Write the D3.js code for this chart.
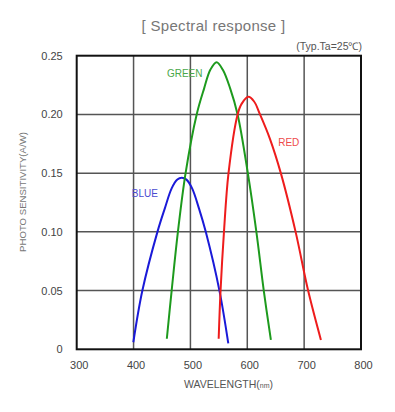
<!DOCTYPE html>
<html>
<head>
<meta charset="utf-8">
<script src="https://cdn.jsdelivr.net/npm/d3@7"></script>
<style>
  html, body { margin: 0; padding: 0; background: #fff; }
  svg { display: block; font-family: "Liberation Sans", Arial, sans-serif; }
</style>
</head>
<body>
<svg id="chart" width="395" height="412"></svg>
<script>
// ---- data ----
const xTicks = [300, 400, 500, 600, 700, 800];
const yTicks = [0, 0.05, 0.10, 0.15, 0.20, 0.25];

const blueWl  = [399.6, 415.5, 442, 455, 467, 477, 484.7, 493, 503, 515, 527, 551, 566.6];
const blueVal = [0.006, 0.05, 0.10, 0.12, 0.137, 0.1445, 0.146, 0.1445, 0.137, 0.12, 0.10, 0.05, 0.005];

const greenWl  = [458.5, 467, 478, 491.5, 511, 524, 535, 546, 557, 570, 583, 601, 616, 629, 641.5];
const greenVal = [0.009, 0.05, 0.10, 0.15, 0.20, 0.222, 0.238, 0.2445, 0.238, 0.222, 0.20, 0.15, 0.10, 0.05, 0.008];

const redWl  = [549.7, 553, 559, 567, 583, 590, 602, 612, 622.4, 640, 659, 685, 707, 729.5];
const redVal = [0.009, 0.05, 0.10, 0.15, 0.20, 0.209, 0.215, 0.211, 0.20, 0.179, 0.15, 0.10, 0.05, 0.008];

const seriesNames = ["BLUE", "GREEN", "RED"];
const seriesWl = [blueWl, greenWl, redWl];
const seriesVal = [blueVal, greenVal, redVal];
const lineColors = ["#1a1ad8", "#1d9a1d", "#ee1c1c"];
const labelColors = ["#4a4ad0", "#4aa84a", "#ee4a4a"];
const labelWl = [420, 490, 673];
const labelVal = [0.133, 0.2348, 0.1765];

const titleText = "[ Spectral response ]";
const noteText = "(Typ.Ta=25\u2103)";
const yTitle = "PHOTO SENSITIVITY(A/W)";

// ---- chart ----
const svg = d3.select("#chart");
const L = 76.7, R = 361, T = 55.7, B = 349.3;
const x = d3.scaleLinear().domain([300, 800]).range([L, R]);
const y = d3.scaleLinear().domain([0, 0.25]).range([B, T]);

// grid
svg.append("g").selectAll("line").data(xTicks.slice(1, -1)).join("line")
  .attr("x1", d => x(d)).attr("x2", d => x(d)).attr("y1", T).attr("y2", B)
  .attr("stroke", "#555").attr("stroke-width", 1.5);
svg.append("g").selectAll("line").data(yTicks.slice(1, -1)).join("line")
  .attr("y1", d => y(d)).attr("y2", d => y(d)).attr("x1", L).attr("x2", R)
  .attr("stroke", "#555").attr("stroke-width", 1.5);

// frame
svg.append("rect").attr("x", L).attr("y", T).attr("width", R - L).attr("height", B - T)
  .attr("fill", "none").attr("stroke", "#111").attr("stroke-width", 2);

// axes (labels only)
const xAxis = d3.axisBottom(x).tickValues(xTicks).tickSize(0).tickPadding(12);
const gx = svg.append("g").attr("transform", `translate(2,${B})`).call(xAxis);
gx.select(".domain").remove();
gx.selectAll("text").attr("font-size", 11).attr("fill", "#444")
  .attr("font-family", "'Liberation Sans', Arial, sans-serif");

const yAxis = d3.axisLeft(y).tickValues(yTicks).tickSize(0).tickPadding(14)
  .tickFormat(d => d === 0 ? "0" : d3.format(".2f")(d));
const gy = svg.append("g").attr("transform", `translate(${L},0)`).call(yAxis);
gy.select(".domain").remove();
gy.selectAll("text").attr("font-size", 11).attr("fill", "#444")
  .attr("font-family", "'Liberation Sans', Arial, sans-serif");

// curves
const line = d3.line().x(d => x(d[0])).y(d => y(d[1])).curve(d3.curveCatmullRom.alpha(0.5));
seriesNames.forEach((name, i) => {
  const pts = seriesWl[i].map((w, j) => [w, seriesVal[i][j]]);
  svg.append("path").attr("d", line(pts)).attr("fill", "none")
    .attr("stroke", lineColors[i]).attr("stroke-width", 2);
  svg.append("text").attr("x", x(labelWl[i])).attr("y", y(labelVal[i]))
    .attr("text-anchor", "middle").attr("dominant-baseline", "central")
    .attr("font-size", 10).attr("fill", labelColors[i]).text(name);
});

// titles
svg.append("text").attr("x", 213.5).attr("y", 31).attr("text-anchor", "middle")
  .attr("font-size", 15).attr("fill", "#777").attr("letter-spacing", 0.3).text(titleText);
svg.append("text").attr("x", 362).attr("y", 50).attr("text-anchor", "end")
  .attr("font-size", 10.5).attr("fill", "#555").text(noteText);

svg.append("text").attr("transform", "translate(26,192) rotate(-90)")
  .attr("text-anchor", "middle").attr("font-size", 9.6).attr("fill", "#777").text(yTitle);

const xt = svg.append("text").attr("x", 228.5).attr("y", 388).attr("text-anchor", "middle")
  .attr("font-size", 10.5).attr("fill", "#555");
xt.append("tspan").text("WAVELENGTH(");
xt.append("tspan").attr("font-size", 7).text("nm");
xt.append("tspan").text(")");
</script>
</body>
</html>
